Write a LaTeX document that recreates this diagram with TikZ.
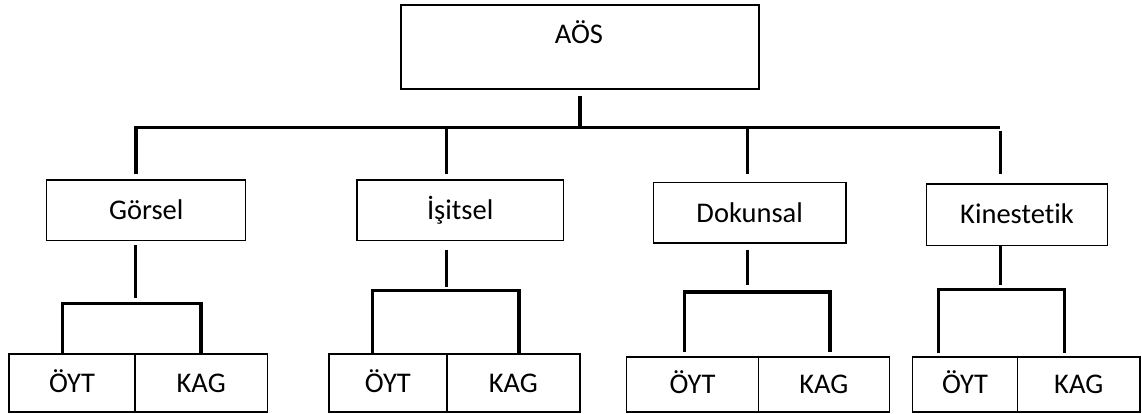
\documentclass[tikz,border=0pt]{standalone}
\usepackage{fontspec}
\setmainfont{Carlito}[Ligatures={NoCommon}]
\begin{document}
\begin{tikzpicture}[x=1pt,y=-1pt,
  txt/.style={inner sep=0pt,text height=18.4pt,text depth=0pt,font=\fontsize{28.5}{32}\selectfont},
  box/.style={txt,draw=black,line width=1.5pt},
  conn/.style={draw=black,line width=3.3pt,line join=miter}]
\useasboundingbox (0,0) rectangle (1142,414);
% top
\node[box,minimum width=358pt,minimum height=84pt] (aos) at (580,47) {};
\node[txt] (aostxt) at (579,34) {AÖS};
% level 2
\node[box,minimum width=199pt,minimum height=60.3pt] (gor) at (146.2,210.2) {Görsel};
\node[box,minimum width=206.3pt,minimum height=60.3pt] (isi) at (460.2,210.2) {İşitsel};
\node[box,minimum width=192.7pt,minimum height=60.3pt] (dok) at (749.7,212.9) {Dokunsal};
\node[box,minimum width=180.6pt,minimum height=61.3pt] (kin) at (1017,214.7) {Kinestetik};
% level 3
\node[box,minimum width=126pt,minimum height=58.3pt] (g1) at (72,382.9) {ÖYT};
\node[box,minimum width=132.3pt,minimum height=58.3pt] (g2) at (201.2,382.9) {KAG};
\node[box,minimum width=117.7pt,minimum height=58.3pt] (i1) at (387.9,382.9) {ÖYT};
\node[box,minimum width=133.3pt,minimum height=58.3pt] (i2) at (513.4,382.9) {KAG};
\node[box,minimum width=131.6pt,minimum height=55pt] (d1) at (692.5,384.5) {ÖYT};
\node[box,minimum width=131pt,minimum height=55pt] (d2) at (823.8,384.5) {KAG};
\node[box,minimum width=104.6pt,minimum height=55pt] (k1) at (965,384.5) {ÖYT};
\node[box,minimum width=122.7pt,minimum height=55pt] (k2) at (1078.7,384.5) {KAG};
% top connectors
\coordinate (busA) at (580,127.5);
\coordinate (busL) at (136,127.5);
\coordinate (busR) at (1000,127.5);
\draw[conn] (aos.south -| busA) ++(0,6) -- (busA);
\draw[conn] (136,174) -- (busL) -- (busR);
\draw[conn] (446.7,127.5) -- (446.7,174);
\draw[conn] (747.7,127.5) -- (747.7,174);
\draw[conn] (1000.7,131) -- (1000.7,174);
% Gorsel
\draw[conn] (135.5,245.3) -- (135.5,297.7);
\draw[conn] (g1.north -| 62.3,0) -- (62.3,303.7) -- (201,303.7) -- (g2.north -| 201,0);
% Isitsel
\draw[conn] (446.7,249.7) -- (446.7,287);
\draw[conn] (i1.north -| 372.3,0) -- (372.3,290.3) -- (519,290.3) -- (i2.north -| 519,0);
% Dokunsal
\draw[conn] (747.7,249.7) -- (747.7,285.3);
\draw[conn] (684.3,352) -- (684.3,292) -- (830,292) -- (830,352);
% Kinestetik
\draw[conn] (kin.south -| 1000.7,0) -- (1000.7,285.3);
\draw[conn] (938.3,353) -- (938.3,289.7) -- (1064.3,289.7) -- (1064.3,353);
\end{tikzpicture}
\end{document}
